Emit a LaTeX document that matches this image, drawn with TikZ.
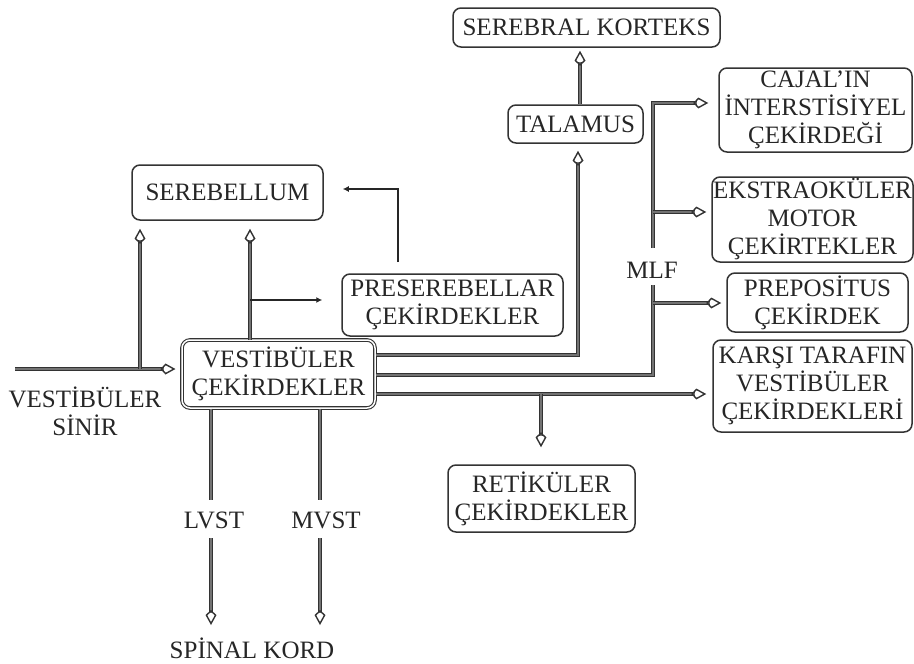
\documentclass[tikz,border=0pt]{standalone}
\usepackage{fontspec}
\setmainfont{Liberation Serif}
\usetikzlibrary{arrows.meta,calc}
\begin{document}
\begin{tikzpicture}[x=1pt,y=-1pt,
  box/.style={draw=black!80,line width=1.5pt,rounded corners=8pt,inner sep=0pt,align=center,text=black!85,font=\fontsize{25}{28}\selectfont},
  lbl/.style={inner sep=0pt,align=center,text=black!85,font=\fontsize{25}{28}\selectfont},
  dl/.style={draw=black!80,line width=1.2pt,double=black!55,double distance=1.4pt},
  sl/.style={draw=black!85,line width=2.2pt},
  otip/.style={-{Kite[open,length=15pt,width=11pt,inset=5pt,line width=1.4pt]}},
  stip/.style={-{Latex[length=6pt,width=6pt]}}]
\useasboundingbox[fill=white] (0,0) rectangle (914,664);
% boxes
\node[box,minimum width=267pt,minimum height=39pt] (kor) at (586.5,27.5) {SEREBRAL KORTEKS};
\node[box,minimum width=135pt,minimum height=38pt] (tal) at (575.5,124) {TALAMUS};
\node[box,minimum width=193pt,minimum height=84pt] (caj) at (815.5,110) {CAJAL'IN\\İNTERSTİSİYEL\\ÇEKİRDEĞİ};
\node[box,minimum width=201pt,minimum height=85pt] (eks) at (812.5,219.5) {EKSTRAOKÜLER\\MOTOR\\ÇEKİRTEKLER};
\node[box,minimum width=181pt,minimum height=59pt] (pre) at (817.5,302.5) {PREPOSİTUS\\ÇEKİRDEK};
\node[box,minimum width=199pt,minimum height=92pt] (kar) at (812.5,386) {KARŞI TARAFIN\\VESTİBÜLER\\ÇEKİRDEKLERİ};
\node[box,minimum width=191pt,minimum height=55pt] (seb) at (227.5,192.5) {SEREBELLUM};
\node[box,minimum width=221pt,minimum height=62pt] (psb) at (452.5,305) {PRESEREBELLAR\\ÇEKİRDEKLER};
\node[box,double=white,double distance=1.5pt,line width=1.1pt,minimum width=193pt,minimum height=68pt] (ves) at (278.5,374) {VESTİBÜLER\\ÇEKİRDEKLER};
\node[box,minimum width=187pt,minimum height=67pt] (ret) at (541.5,498.5) {RETİKÜLER\\ÇEKİRDEKLER};
% labels
\node[lbl] (vsn) at (85,411) {VESTİBÜLER\\SİNİR};
\node[lbl] (mlf) at (652,270) {MLF};
\node[lbl] (lvst) at (214,520) {LVST};
\node[lbl] (mvst) at (326,520) {MVST};
\node[lbl] (spk) at (252,648) {SPİNAL KORD};
% coordinates
\coordinate (vsA) at (15,369);
\coordinate (j1) at (140,369);
\coordinate (j2) at (250,340);
\coordinate (j3) at (250,300);
\coordinate (p1) at (398,262);
\coordinate (p2) at (398,189);
\coordinate (t1) at (578,355);
\coordinate (m0) at (653,375);
\coordinate (m1) at (653,248);
\coordinate (m2) at (653,103);
\coordinate (m3) at (653,212);
\coordinate (m4) at (653,285);
\coordinate (m5) at (653,303);
\coordinate (k0) at (541,394);
\coordinate (l1) at (211,500);
\coordinate (l2) at (211,538);
\coordinate (n1) at (320,500);
\coordinate (n2) at (320,538);
% connectors
\draw[dl,otip,shorten >=6pt] (vsA) -- (vsA -| ves.west);
\draw[dl,otip,shorten >=8pt] (j1) -- (j1 |- seb.south);
\draw[dl,otip,shorten >=8pt] (j2) -- (j2 |- seb.south);
\draw[sl,stip,shorten >=19pt] (j3) -- (j3 -| psb.west);
\draw[sl,stip,shorten >=19pt] (p1) -- (p2) -- (p2 -| seb.east);
\draw[dl,otip,shorten >=7pt] (t1 -| ves.east) -- (t1) -- (t1 |- tal.south);
\draw[dl,otip,shorten >=3pt] (tal.north -| 580,0) -- (kor.south -| 580,0);
\draw[dl] (m0 -| ves.east) -- (m0) -- (m4);
\draw[dl,otip,shorten >=10pt] (m1) -- (m2) -- (m2 -| caj.west);
\draw[dl,otip,shorten >=5pt] (m3) -- (m3 -| eks.west);
\draw[dl,otip,shorten >=5pt] (m5) -- (m5 -| pre.west);
\draw[dl,otip,shorten >=6pt] (k0 -| ves.east) -- (k0 -| kar.west);
\draw[dl,otip,shorten >=17pt] (k0) -- (k0 |- ret.north);
\draw[dl] (l1 |- ves.south) -- (l1);
\draw[dl,otip,shorten >=2pt] (l2) -- (211,627);
\draw[dl] (n1 |- ves.south) -- (n1);
\draw[dl,otip,shorten >=2pt] (n2) -- (320,627);
\end{tikzpicture}
\end{document}
